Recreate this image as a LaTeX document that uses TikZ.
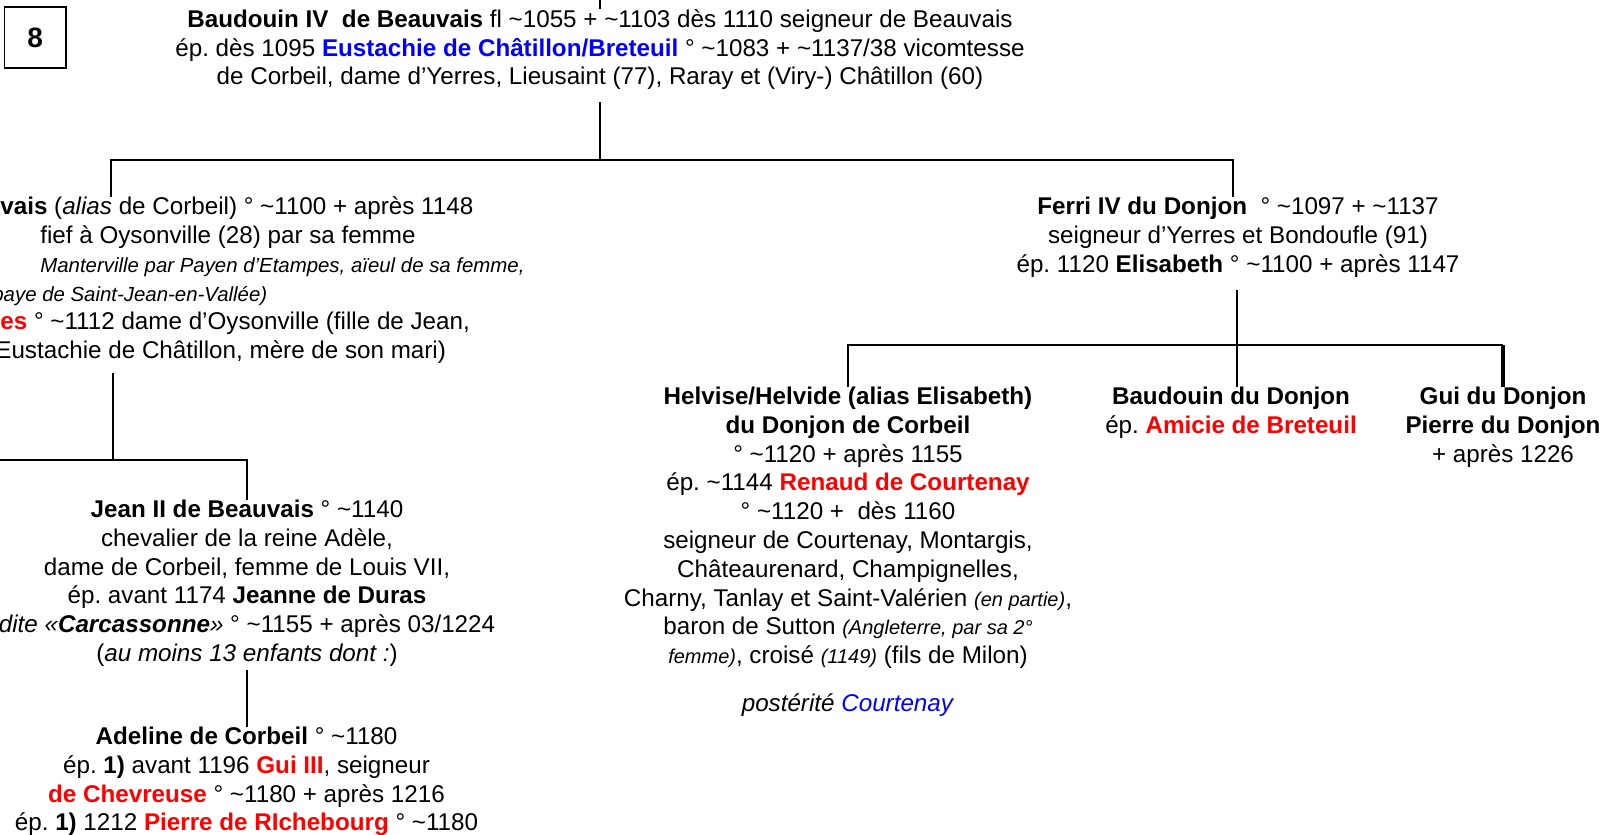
\documentclass[tikz,border=0pt]{standalone}
\usepackage{fontspec}
\setmainfont{Liberation Sans}
\usepackage{xcolor}
\definecolor{famred}{RGB}{255,0,0}
\definecolor{famblue}{RGB}{0,0,255}
\usetikzlibrary{calc}
\newcommand{\apx}{\textasciitilde}
\newcommand{\smallit}[1]{{\fontsize{10}{14.4}\selectfont\itshape #1}}
\newcommand{\noteit}[1]{{\fontsize{10.2}{14.4}\selectfont\itshape #1}}
\newcommand{\redname}[1]{\textcolor{famred}{\textbf{#1}}}
\frenchspacing

\begin{document}
\begin{tikzpicture}[x=0.5pt, y=-0.5pt,
  person/.style={anchor=north, align=center, inner sep=0pt,
    font=\fontsize{12.1}{14.4}\selectfont, execute at begin node=\strut},
  link/.style={line width=1pt}]

\useasboundingbox (0,0) rectangle (1614,835);

% numero de planche
\node[draw, line width=0.6pt, minimum width=30.75pt, minimum height=30.5pt,
  inner sep=0pt, font=\fontsize{14}{16}\selectfont\bfseries] (num) at (35.25,37.5) {8};

\node[person] (baudouin) at (600,9) {\textbf{Baudouin IV\ \ de Beauvais} fl \apx1055 + \apx1103 dès 1110 seigneur de Beauvais\\
  ép. dès 1095 \textcolor{famblue}{\textbf{Eustachie de Châtillon/Breteuil}} ° \apx1083 + \apx1137/38 vicomtesse\\
  de Corbeil, dame d’Yerres, Lieusaint (77), Raray et (Viry-) Châtillon (60)};

% branche de gauche, coupee au bord
\node[person, anchor=north west, align=left] (jeanI) at (0,196.5) {\textbf{vais} (\textit{alias} de Corbeil) ° \apx1100 + après 1148\\
  \hspace*{20pt}fief à Oysonville (28) par sa femme\\
  \hspace*{20pt}\noteit{Manterville par Payen d’Etampes, aïeul de sa femme,}\\
  \hspace*{-4pt}\noteit{baye de Saint-Jean-en-Vallée)}\\
  \redname{es} ° \apx1112 dame d’Oysonville (fille de Jean,\\
  \hspace*{-2.5pt}Eustachie de Châtillon, mère de son mari)};

\node[person] (ferri) at (1238,196.5) {\textbf{Ferri IV du Donjon}\ \ ° \apx1097 + \apx1137\\
  seigneur d’Yerres et Bondoufle (91)\\
  ép. 1120 \textbf{Elisabeth} ° \apx1100 + après 1147};

\node[person] (jeanII) at (247,499.5) {\textbf{Jean II de Beauvais} ° \apx1140\\
  chevalier de la reine Adèle,\\
  dame de Corbeil, femme de Louis VII,\\
  ép. avant 1174 \textbf{Jeanne de Duras}\\
  \textit{dite «\textbf{Carcassonne}»} ° \apx1155 + après 03/1224\\
  (\textit{au moins 13 enfants dont :})};

\node[person] (adeline) at (246.5,726.5) {\textbf{Adeline de Corbeil} ° \apx1180\\
  ép. \textbf{1)} avant 1196 \redname{Gui III}, seigneur\\
  \redname{de Chevreuse} ° \apx1180 + après 1216\\
  ép. \textbf{1)} 1212 \redname{Pierre de RIchebourg} ° \apx1180};

% enfants de Ferri
\node[person] (helvise) at (848,386.5) {\textbf{Helvise/Helvide (alias Elisabeth)}\\
  \textbf{du Donjon de Corbeil}\\
  ° \apx1120 + après 1155\\
  ép. \apx1144 \redname{Renaud de Courtenay}\\
  ° \apx1120 +\ \ dès 1160\\
  seigneur de Courtenay, Montargis,\\
  Châteaurenard, Champignelles,\\
  Charny, Tanlay et Saint-Valérien \smallit{(en partie)},\\
  baron de Sutton \smallit{(Angleterre, par sa 2°}\\
  \smallit{femme)}, croisé \smallit{(1149)} (fils de Milon)\\[9.6pt]
  \textit{postérité} \textcolor{famblue}{\textit{Courtenay}}};

\node[person] (baudouinD) at (1231,386.5) {\textbf{Baudouin du Donjon}\\
  ép. \redname{Amicie de Breteuil}};

\node[person] (gui) at (1503,386.5) {\textbf{Gui du Donjon}\\
  \textbf{Pierre du Donjon}\\
  + après 1226};

\coordinate (above) at (600,0);
\coordinate (bus1) at (600,160);
\coordinate (b1l) at (111,160);
\coordinate (b1r) at (1233,160);
\coordinate (bus2) at (1237,345);
\coordinate (bus3) at (113,460);
\coordinate (offleft) at (0,460);

\draw[link] (above) -- (baudouin.north);
\draw[link, shorten <=4.25pt] (baudouin.south) -- (bus1);
\draw[link] (b1l |- jeanI.north) -- (b1l) -- (b1r) -- (b1r |- ferri.north);
\draw[link, shorten <=4.25pt] (ferri.south -| bus2) -- (bus2);
\draw[link] (helvise.north) |- (gui.north |- bus2);
\draw[link] (bus2) -- (bus2 |- baudouinD.north);
\draw[line width=2pt] (gui.north |- bus2) -- (gui.north);
\draw[link, shorten <=2.75pt] (jeanI.south -| bus3) -- (bus3);
\draw[link] (offleft) -| (jeanII.north);
\draw[link] (jeanII.south) -- (jeanII.south |- adeline.north);

\end{tikzpicture}
\end{document}
